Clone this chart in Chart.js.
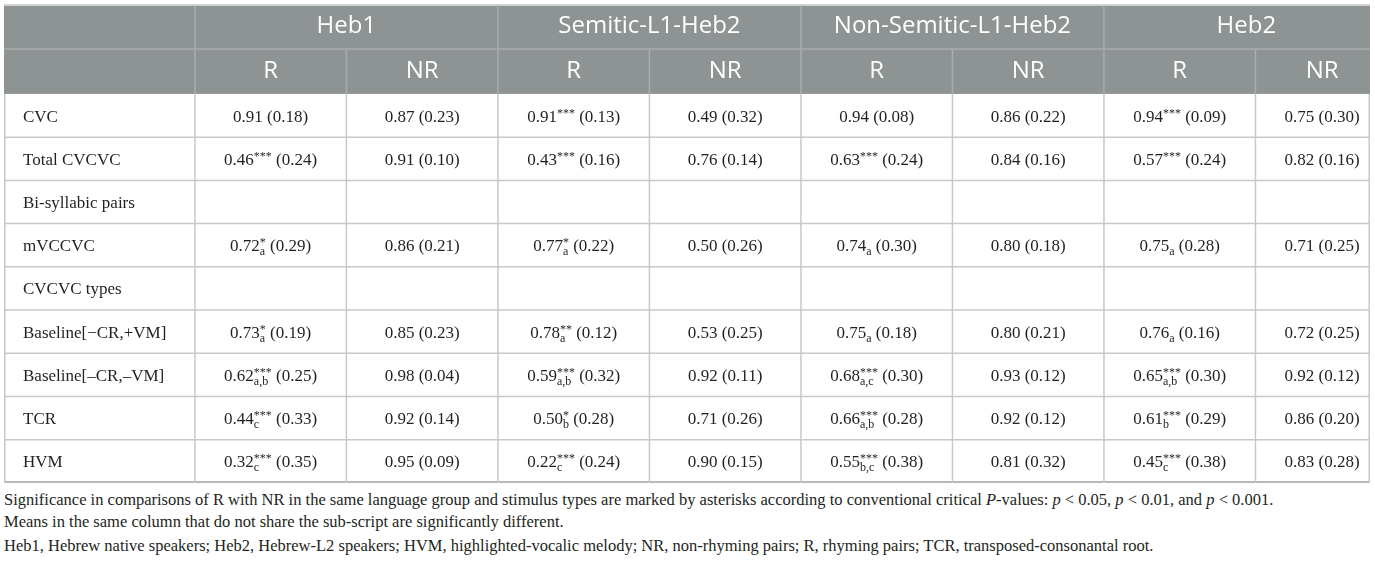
<!DOCTYPE html>
<html>
<head>
<meta charset="utf-8">
<title>Rhyme judgement table</title>
<script src="https://cdn.jsdelivr.net/npm/chart.js@4.4.1/dist/chart.umd.min.js"></script>
<style>
    html, body { margin: 0; padding: 0; background: #fff; width: 1375px; height: 563px; overflow: hidden; }
    #tableClip { position: absolute; left: 4px; top: 4px; width: 1366px; height: 479px; overflow: hidden; }
    #tableBox { position: relative; width: 1366px; height: 479px; }
    .notes { position: absolute; left: 4px; top: 489px; font-family: "Liberation Serif", serif; font-size: 16.5px; color: #231f20; }
    .notes p { margin: 0; line-height: 22px; white-space: nowrap; }
    .notes p.last { margin-top: 2px; }
</style>
</head>
<body>
<div id="tableClip"><div id="tableBox"><canvas id="tableChart"></canvas></div></div>
<div class="notes">
    <p>Significance in comparisons of R with NR in the same language group and stimulus types are marked by asterisks according to conventional critical <i>P</i>-values: <i>p</i> &lt; 0.05, <i>p</i> &lt; 0.01, and <i>p</i> &lt; 0.001.</p>
    <p>Means in the same column that do not share the sub-script are significantly different.</p>
    <p class="last">Heb1, Hebrew native speakers; Heb2, Hebrew-L2 speakers; HVM, highlighted-vocalic melody; NR, non-rhyming pairs; R, rhyming pairs; TCR, transposed-consonantal root.</p>
</div>
<script>
/* ============================================
   Table data (null = section heading row)
   ============================================ */

const groups = ['Heb1', 'Semitic-L1-Heb2', 'Non-Semitic-L1-Heb2', 'Heb2'];
const pairTypes = ['R', 'NR'];
const rowLabels = ['CVC', 'Total CVCVC', 'Bi-syllabic pairs', 'mVCCVC', 'CVCVC types',
    'Baseline[\u2212CR,+VM]', 'Baseline[\u2013CR,\u2013VM]', 'TCR', 'HVM'];

const heb1RMean  = [0.91, 0.46, null, 0.72, null, 0.73, 0.62, 0.44, 0.32];
const heb1RSd    = [0.18, 0.24, null, 0.29, null, 0.19, 0.25, 0.33, 0.35];
const heb1RStars = ['', '***', '', '*', '', '*', '***', '***', '***'];
const heb1RSub   = ['', '', '', 'a', '', 'a', 'a,b', 'c', 'c'];
const heb1NRMean = [0.87, 0.91, null, 0.86, null, 0.85, 0.98, 0.92, 0.95];
const heb1NRSd   = [0.23, 0.10, null, 0.21, null, 0.23, 0.04, 0.14, 0.09];

const semRMean  = [0.91, 0.43, null, 0.77, null, 0.78, 0.59, 0.50, 0.22];
const semRSd    = [0.13, 0.16, null, 0.22, null, 0.12, 0.32, 0.28, 0.24];
const semRStars = ['***', '***', '', '*', '', '**', '***', '*', '***'];
const semRSub   = ['', '', '', 'a', '', 'a', 'a,b', 'b', 'c'];
const semNRMean = [0.49, 0.76, null, 0.50, null, 0.53, 0.92, 0.71, 0.90];
const semNRSd   = [0.32, 0.14, null, 0.26, null, 0.25, 0.11, 0.26, 0.15];

const nonSemRMean  = [0.94, 0.63, null, 0.74, null, 0.75, 0.68, 0.66, 0.55];
const nonSemRSd    = [0.08, 0.24, null, 0.30, null, 0.18, 0.30, 0.28, 0.38];
const nonSemRStars = ['', '***', '', '', '', '', '***', '***', '***'];
const nonSemRSub   = ['', '', '', 'a', '', 'a', 'a,c', 'a,b', 'b,c'];
const nonSemNRMean = [0.86, 0.84, null, 0.80, null, 0.80, 0.93, 0.92, 0.81];
const nonSemNRSd   = [0.22, 0.16, null, 0.18, null, 0.21, 0.12, 0.12, 0.32];

const heb2RMean  = [0.94, 0.57, null, 0.75, null, 0.76, 0.65, 0.61, 0.45];
const heb2RSd    = [0.09, 0.24, null, 0.28, null, 0.16, 0.30, 0.29, 0.38];
const heb2RStars = ['***', '***', '', '', '', '', '***', '***', '***'];
const heb2RSub   = ['', '', '', 'a', '', 'a', 'a,b', 'b', 'c'];
const heb2NRMean = [0.75, 0.82, null, 0.71, null, 0.72, 0.92, 0.86, 0.83];
const heb2NRSd   = [0.30, 0.16, null, 0.25, null, 0.25, 0.12, 0.20, 0.28];

/* ============================================
   Layout (scale units: one data column = 1, one data row = 1)
   ============================================ */

const LABEL_COL = 1.26;      // width of the row-label column
const HEADER_ROWS = 2.08;    // both header rows together
const LAST_COL = 0.88;       // last column runs past the picture edge
const X_MAX = 7.756;

const HEADER_BG = '#8e9394';
const HEADER_LINE = '#a9adae';
const GRID_LINE = '#c8c8c8';
const TEXT_COLOR = '#231f20';
const BODY_FONT = "17px 'Liberation Serif', serif";
const SMALL_FONT = "12px 'Liberation Serif', serif";
const HEAD_FONT = "24px 'Open Sans', sans-serif";

const columns = [
    { mean: heb1RMean, sd: heb1RSd, stars: heb1RStars, sub: heb1RSub },
    { mean: heb1NRMean, sd: heb1NRSd },
    { mean: semRMean, sd: semRSd, stars: semRStars, sub: semRSub },
    { mean: semNRMean, sd: semNRSd },
    { mean: nonSemRMean, sd: nonSemRSd, stars: nonSemRStars, sub: nonSemRSub },
    { mean: nonSemNRMean, sd: nonSemNRSd },
    { mean: heb2RMean, sd: heb2RSd, stars: heb2RStars, sub: heb2RSub },
    { mean: heb2NRMean, sd: heb2NRSd }
];

function colSpan(c) {
    return c === columns.length - 1 ? LAST_COL : 1;
}

/**
 * One scatter dataset per data column, one point per filled cell
 */
function buildDatasets() {
    return columns.map((col, c) => {
        const points = [];
        col.mean.forEach((m, i) => {
            if (m === null) return;
            points.push({
                x: c + colSpan(c) / 2,
                y: i + 0.5,
                mean: m,
                sd: col.sd[i],
                stars: col.stars ? col.stars[i] : '',
                sub: col.sub ? col.sub[i] : ''
            });
        });
        return {
            label: groups[Math.floor(c / 2)] + ' ' + pairTypes[c % 2],
            data: points,
            pointRadius: 0,
            pointHoverRadius: 0
        };
    });
}

function line(ctx, x1, y1, x2, y2, color, width) {
    ctx.strokeStyle = color;
    ctx.lineWidth = width;
    ctx.beginPath();
    ctx.moveTo(x1, y1);
    ctx.lineTo(x2, y2);
    ctx.stroke();
}

/**
 * Draw one "mean^stars_sub (sd)" cell centred at (cx, cy)
 */
function drawCell(ctx, cx, cy, p) {
    const main = p.mean.toFixed(2);
    const tail = ' (' + p.sd.toFixed(2) + ')';
    ctx.font = BODY_FONT;
    const wMain = ctx.measureText(main).width;
    const wTail = ctx.measureText(tail).width;
    ctx.font = SMALL_FONT;
    const wSup = p.stars ? ctx.measureText(p.stars).width : 0;
    const wSub = p.sub ? ctx.measureText(p.sub).width : 0;
    const wScript = Math.max(wSup, wSub);
    const start = cx - (wMain + wScript + wTail) / 2;
    const base = cy + 6;

    ctx.fillStyle = TEXT_COLOR;
    ctx.textAlign = 'left';
    ctx.textBaseline = 'alphabetic';
    ctx.font = BODY_FONT;
    ctx.fillText(main, start, base);
    ctx.fillText(tail, start + wMain + wScript, base);
    ctx.font = SMALL_FONT;
    if (p.stars) ctx.fillText(p.stars, start + wMain, base - 5);
    if (p.sub) ctx.fillText(p.sub, start + wMain, base + 4);
}

const tablePlugin = {
    id: 'tableGrid',
    beforeDatasetsDraw(chart) {
        const { ctx, scales: { x, y } } = chart;
        const left = x.getPixelForValue(-LABEL_COL);
        const right = x.getPixelForValue(X_MAX);
        const top = y.getPixelForValue(-HEADER_ROWS);
        const mid = y.getPixelForValue(-HEADER_ROWS / 2);
        const headBottom = y.getPixelForValue(0);
        const bottom = y.getPixelForValue(rowLabels.length);

        ctx.save();
        // header block
        ctx.fillStyle = HEADER_BG;
        ctx.fillRect(left, top + 1.5, right - left, headBottom - top - 1.5);
        line(ctx, left, top + 0.75, right, top + 0.75, '#d4d6d6', 1.5);
        line(ctx, left, mid, right, mid, HEADER_LINE, 1.5);
        for (let c = 0; c < columns.length; c++) {
            const px = x.getPixelForValue(c);
            if (c % 2 === 0) line(ctx, px, top + 1.5, px, mid, HEADER_LINE, 1.5);
            line(ctx, px, mid, px, headBottom, HEADER_LINE, 1.5);
        }

        // body grid
        for (let i = 1; i < rowLabels.length; i++) {
            const py = y.getPixelForValue(i);
            line(ctx, left, py, right, py, GRID_LINE, 1.5);
        }
        line(ctx, left, bottom - 1, right, bottom - 1, '#b8b8b8', 2);
        line(ctx, left + 0.75, headBottom, left + 0.75, bottom, GRID_LINE, 1.5);
        line(ctx, right - 0.75, headBottom, right - 0.75, bottom, GRID_LINE, 1.5);
        for (let c = 0; c < columns.length; c++) {
            const px = x.getPixelForValue(c);
            line(ctx, px, headBottom, px, bottom, GRID_LINE, 1.5);
        }
        ctx.restore();
    },
    afterDatasetsDraw(chart) {
        const { ctx, scales: { x, y } } = chart;
        ctx.save();

        // header texts
        ctx.fillStyle = '#ffffff';
        ctx.font = HEAD_FONT;
        ctx.textAlign = 'center';
        ctx.textBaseline = 'middle';
        const row1 = y.getPixelForValue(-HEADER_ROWS * 0.75);
        const row2 = y.getPixelForValue(-HEADER_ROWS * 0.25);
        groups.forEach((g, k) => {
            const c0 = 2 * k;
            const c1 = c0 + 1 + colSpan(c0 + 1);
            ctx.fillText(g, x.getPixelForValue((c0 + c1) / 2), row1);
        });
        columns.forEach((col, c) => {
            ctx.fillText(pairTypes[c % 2], x.getPixelForValue(c + colSpan(c) / 2), row2);
        });

        // row labels
        ctx.fillStyle = TEXT_COLOR;
        ctx.font = BODY_FONT;
        ctx.textAlign = 'left';
        ctx.textBaseline = 'alphabetic';
        const labelX = x.getPixelForValue(-LABEL_COL) + 19;
        rowLabels.forEach((r, i) => {
            ctx.fillText(r, labelX, y.getPixelForValue(i + 0.5) + 6);
        });

        // cells, placed at the dataset points
        chart.data.datasets.forEach((ds, d) => {
            const meta = chart.getDatasetMeta(d);
            meta.data.forEach((el, j) => drawCell(ctx, el.x, el.y, ds.data[j]));
        });
        ctx.restore();
    }
};

function initTableChart() {
    const canvas = document.getElementById('tableChart');
    if (!canvas) return;
    new Chart(canvas.getContext('2d'), {
        type: 'scatter',
        data: { datasets: buildDatasets() },
        options: {
            responsive: true,
            maintainAspectRatio: false,
            animation: false,
            events: [],
            layout: { padding: 0 },
            plugins: { legend: { display: false }, tooltip: { enabled: false } },
            scales: {
                x: { type: 'linear', min: -LABEL_COL, max: X_MAX, display: false },
                y: { type: 'linear', min: -HEADER_ROWS, max: rowLabels.length, reverse: true, display: false }
            }
        },
        plugins: [tablePlugin]
    });
}

initTableChart();
</script>
</body>
</html>
